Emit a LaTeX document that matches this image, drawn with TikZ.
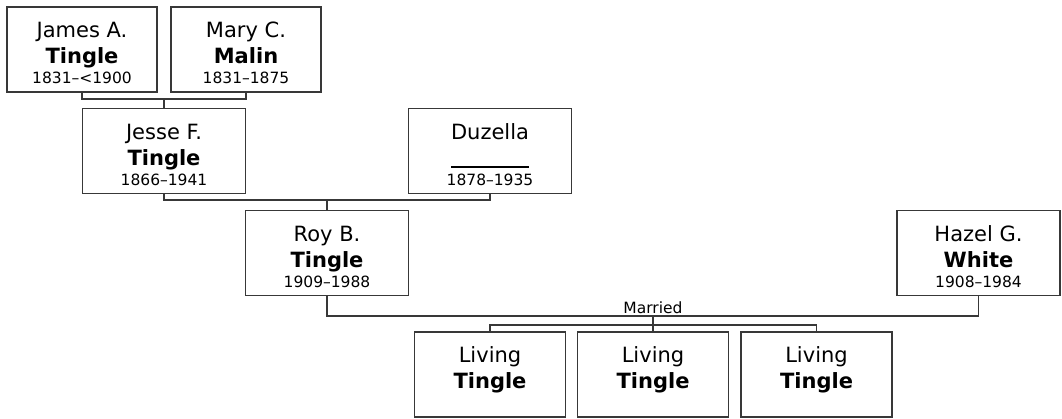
\documentclass[tikz,border=0pt]{standalone}
\usepackage{fontspec}
\setmainfont{DejaVu Sans}
\definecolor{boxline}{HTML}{383838}
\tikzset{
  person/.style={draw=boxline,line width=1.1pt,rectangle,minimum width=150pt,minimum height=85pt,align=center,inner sep=0pt,font=\fontsize{21}{26}\selectfont},
  wide/.style={minimum width=163pt},
  link/.style={draw=boxline,line width=1.1pt},
}
\newcommand{\pname}[3]{\rule{0pt}{22pt}#1\\{\bfseries #2}\\[-6pt]{\fontsize{15.5}{20}\selectfont\smash{#3}}\mbox{}}
\begin{document}
\begin{tikzpicture}[x=1pt,y=-1pt]
\useasboundingbox (0,0) rectangle (1062,418);
% grandparents
\node[person] (james) at (82,49.5) {\pname{James A.}{Tingle}{1831--<1900}};
\node[person] (mary) at (246,49.5) {\pname{Mary C.}{Malin}{1831--1875}};
% parents
\node[person,wide] (jesse) at (164,151) {\pname{Jesse F.}{Tingle}{1866--1941}};
\node[person,wide] (duzella) at (490,151) {\pname{Duzella}{\smash{\rule[-3pt]{78pt}{2pt}}}{1878--1935}};
% couple
\node[person,wide] (roy) at (327,253) {\pname{Roy B.}{Tingle}{1909--1988}};
\node[person,wide] (hazel) at (978.5,253) {\pname{Hazel G.}{White}{1908--1984}};
% children
\node[person,minimum width=151pt] (kid1) at (490,374.5) {\pname{Living}{Tingle}{}};
\node[person,minimum width=151pt] (kid2) at (653,374.5) {\pname{Living}{Tingle}{}};
\node[person,minimum width=151pt] (kid3) at (816.5,374.5) {\pname{Living}{Tingle}{}};
\coordinate (j1) at (164,99);
\coordinate (j2) at (327,200);
\coordinate (j3) at (653,316);
\coordinate (j4) at (653,325);
\draw[link] (james.south) |- (j1) -| (mary.south);
\draw[link] (j1) -- (jesse.north);
\draw[link] (jesse.south) |- (j2) -| (duzella.south);
\draw[link] (j2) -- (roy.north);
\draw[link] (roy.south) |- (j3) -| (hazel.south);
\node[above=2pt,font=\fontsize{15.5}{18}\selectfont,inner sep=0pt] (married) at (j3) {Married};
\draw[link] (j3) -- (j4);
\draw[link] (kid1.north) |- (j4) -| (kid3.north);
\draw[link] (j4) -- (kid2.north);
\end{tikzpicture}
\end{document}
